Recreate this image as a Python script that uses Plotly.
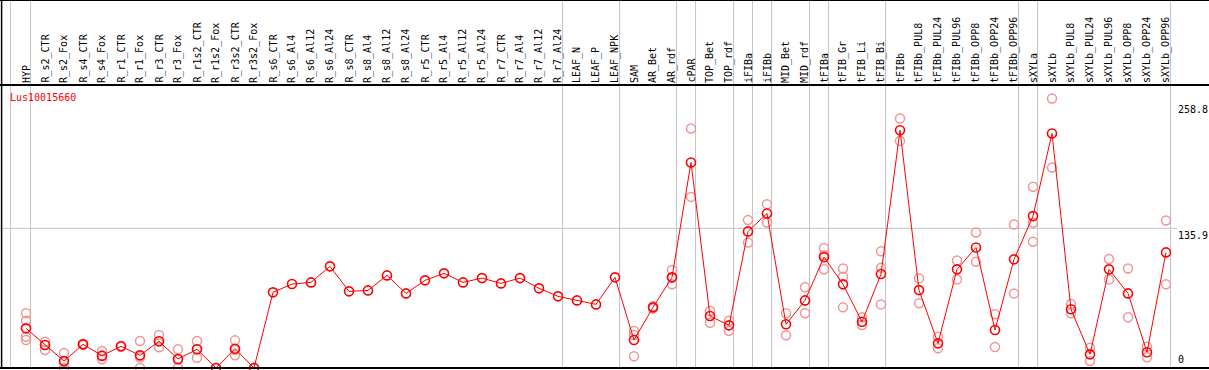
import plotly.graph_objects as go

categories = [
    "HYP", "R_s2_CTR", "R_s2_Fox", "R_s4_CTR", "R_s4_Fox", "R_r1_CTR", "R_r1_Fox",
    "R_r3_CTR", "R_r3_Fox", "R_r1s2_CTR", "R_r1s2_Fox", "R_r3s2_CTR", "R_r3s2_Fox",
    "R_s6_CTR", "R_s6_Al4", "R_s6_Al12", "R_s6_Al24", "R_s8_CTR", "R_s8_Al4",
    "R_s8_Al12", "R_s8_Al24", "R_r5_CTR", "R_r5_Al4", "R_r5_Al12", "R_r5_Al24",
    "R_r7_CTR", "R_r7_Al4", "R_r7_Al12", "R_r7_Al24", "LEAF_N", "LEAF_P", "LEAF_NPK",
    "SAM", "AR_Bet", "AR_rdf", "cPAR", "TOP_Bet", "TOP_rdf", "iFIBa", "iFIBb",
    "MID_Bet", "MID_rdf", "tFIBa", "tFIB_Gr", "tFIB_Li", "tFIB_Bi", "tFIBb",
    "tFIBb_PUL8", "tFIBb_PUL24", "tFIBb_PUL96", "tFIBb_OPP8", "tFIBb_OPP24",
    "tFIBb_OPP96", "sXYLa", "sXYLb", "sXYLb_PUL8", "sXYLb_PUL24", "sXYLb_PUL96",
    "sXYLb_OPP8", "sXYLb_OPP24", "sXYLb_OPP96",
]

mean_values = [
    38.6, 22.4, 6.8, 23.0, 12.0, 21.1, 12.3, 26.0, 8.8, 18.2, 0.0, 18.8, 0.0,
    73.6, 81.7, 83.3, 98.9, 74.6, 75.5, 90.1, 72.6, 85.3, 92.1, 83.3, 87.5,
    82.3, 87.5, 77.5, 69.7, 65.8, 61.9, 88.2,
    27.2, 59.0, 88.2, 200.0, 50.6, 41.5, 132.9, 150.4, 42.5, 65.8, 107.9,
    81.4, 45.0, 91.4, 231.3, 75.8, 24.0, 96.0, 117.3, 37.0, 105.7,
    147.8, 228.2, 57.1, 13.3, 96.0, 72.6, 15.3, 112.5,
]

replicate_values = [
    [53.2, 46.0, 30.4, 27.2], [25.6, 22.4, 17.5], [14.6, 5.5, 0.0], [23.5, 22.5, 23.0],
    [16.5, 11.5, 8.5], [21.5, 20.7], [26.3, 10.5, 0.0], [32.1, 26.0, 20.1],
    [18.2, 8.3, 0.0], [26.3, 18.5, 10.0], [0.0, 0.0], [26.9, 17.6, 12.3], [0.0, 0.0],
    [], [], [], [], [], [], [], [], [], [], [], [], [], [], [], [], [], [], [],
    [36.0, 32.1, 11.4], [60.0, 58.0], [95.3, 88.0, 81.4], [233.0, 166.5],
    [55.4, 44.1], [46.0, 36.3], [143.9, 122.2], [159.4, 141.6], [53.2, 31.8],
    [78.5, 53.2], [116.7, 110.0, 96.0], [96.9, 88.8, 59.0], [49.3, 41.8],
    [113.5, 97.5, 61.9], [242.7, 221.0], [87.2, 62.9], [30.4, 19.2], [104.7, 86.2],
    [131.9, 103.3], [52.2, 20.4], [139.7, 72.6], [176.3, 141.3, 122.8],
    [262.2, 195.1], [62.2, 53.2], [19.7, 6.8], [106.0, 86.2], [96.9, 49.3],
    [20.7, 10.4], [143.6, 81.4],
]

y_tick_values = [0, 135.9, 258.8]
y_tick_labels = ["0", "135.9", "258.8"]
gene_name = "Lus10015660"
group_ends = ["HYP", "R_r7_Al24", "LEAF_NPK", "AR_rdf", "cPAR", "TOP_rdf", "iFIBa",
              "iFIBb", "MID_rdf", "tFIBa", "tFIB_Bi", "tFIBb_OPP96", "sXYLa", "sXYLb_OPP96"]

W, H = 1209, 370
STEP = 19.0      # px per category
X0PX = 26.0      # px of first category
ZERO_PX = 368.0  # px of value 0
KPX = 1.0277     # px per unit
FONT = "DejaVu Sans Mono"

x_idx = list(range(len(categories)))
xmin = -X0PX / STEP
xmax = xmin + W / STEP
ymax = ZERO_PX / KPX
ymin = -(H - ZERO_PX) / KPX

def px_to_x(px):
    return xmin + px / STEP

def py_to_paper(py):
    return (H - py) / H

rep_x, rep_y = [], []
for i, reps in enumerate(replicate_values):
    for v in reps:
        rep_x.append(i)
        rep_y.append(v)

fig = go.Figure()
fig.add_trace(go.Scatter(
    x=rep_x, y=rep_y, mode="markers", hoverinfo="skip",
    marker=dict(symbol="circle-open", size=9, color="#F09595", line=dict(width=1.5, color="#F09595")),
    showlegend=False,
))
fig.add_trace(go.Scatter(
    x=x_idx, y=mean_values, mode="lines+markers",
    line=dict(color="#FF0000", width=1),
    marker=dict(symbol="circle-open", size=9, color="#FF0000", line=dict(width=1.6, color="#FF0000")),
    showlegend=False,
))

shapes = []
grid_col = "#C4C4C4"
shapes.append(dict(type="line", xref="x", yref="paper", x0=px_to_x(10.5), x1=px_to_x(10.5),
                   y0=py_to_paper(368), y1=1, line=dict(color=grid_col, width=1), layer="below"))
for name in group_ends:
    i = categories.index(name)
    gx = i + 0.24
    shapes.append(dict(type="line", xref="x", yref="paper", x0=gx, x1=gx,
                       y0=py_to_paper(368), y1=1, line=dict(color=grid_col, width=1), layer="below"))
shapes.append(dict(type="line", xref="paper", yref="y", x0=0, x1=1177 / W,
                   y0=y_tick_values[1], y1=y_tick_values[1], line=dict(color=grid_col, width=1), layer="below"))
shapes.append(dict(type="line", xref="paper", yref="paper", x0=0, x1=1, y0=py_to_paper(0.5), y1=py_to_paper(0.5),
                   line=dict(color="black", width=1)))
shapes.append(dict(type="line", xref="paper", yref="paper", x0=0, x1=1, y0=py_to_paper(85), y1=py_to_paper(85),
                   line=dict(color="black", width=2)))
shapes.append(dict(type="line", xref="paper", yref="paper", x0=0, x1=1, y0=py_to_paper(368), y1=py_to_paper(368),
                   line=dict(color="black", width=2)))
shapes.append(dict(type="line", xref="paper", yref="paper", x0=1.6 / W, x1=1.6 / W, y0=py_to_paper(368), y1=1,
                   line=dict(color="black", width=1.5)))

annotations = []
for i, name in enumerate(categories):
    annotations.append(dict(
        x=i, xref="x", y=py_to_paper(84), yref="paper", text=name, textangle=-90,
        showarrow=False, xanchor="center", yanchor="bottom",
        font=dict(family=FONT, size=10, color="black"), borderpad=0,
    ))
annotations.append(dict(
    x=9 / W, xref="paper", y=py_to_paper(97), yref="paper", text=gene_name,
    showarrow=False, xanchor="left", yanchor="middle",
    font=dict(family=FONT, size=10, color="#FF0000"), borderpad=0,
))
for v, lab in zip(y_tick_values, y_tick_labels):
    if v == 0:
        annotations.append(dict(x=1177 / W, xref="paper", y=v, yref="y", text=lab, showarrow=False,
                                xanchor="left", yanchor="bottom", yshift=2,
                                font=dict(family=FONT, size=10, color="black"), borderpad=0))
    else:
        annotations.append(dict(x=1177 / W, xref="paper", y=v, yref="y", text=lab, showarrow=False,
                                xanchor="left", yanchor="top", yshift=-1,
                                font=dict(family=FONT, size=10, color="black"), borderpad=0))

fig.update_layout(
    width=W, height=H, margin=dict(l=0, r=0, t=0, b=0),
    paper_bgcolor="white", plot_bgcolor="white",
    xaxis=dict(range=[xmin, xmax], visible=False, fixedrange=True),
    yaxis=dict(range=[ymin, ymax], visible=False, fixedrange=True),
    shapes=shapes, annotations=annotations,
)

fig.write_html(
    "out.html",
    config={"displayModeBar": False},
    post_script="document.body.style.margin='0';document.body.style.overflow='hidden';",
)
